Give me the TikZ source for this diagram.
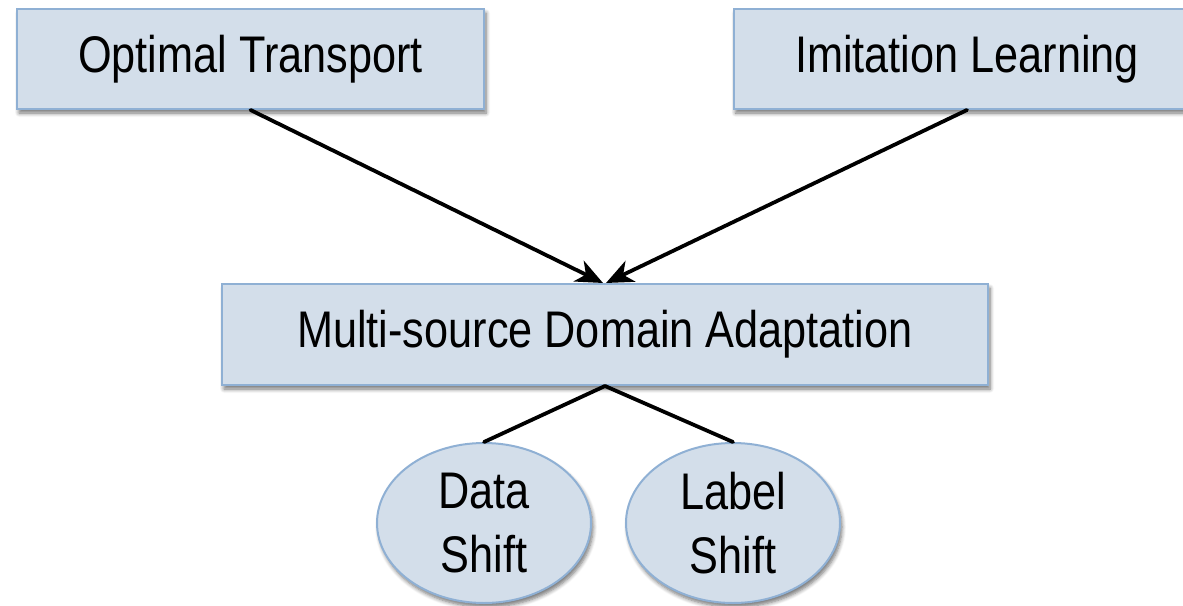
\documentclass[tikz,border=0pt]{standalone}
\usepackage{fontspec}
\setmainfont{Liberation Sans}[FakeStretch=0.84]
\usetikzlibrary{arrows.meta,shadows.blur,shapes.geometric,calc}
\definecolor{boxfill}{HTML}{D3DEEA}
\definecolor{boxline}{HTML}{8FB0D4}
\begin{document}
\begin{tikzpicture}[x=1pt,y=-1pt,
  softshadow/.style={blur shadow={shadow xshift=2pt,shadow yshift=-4pt,
      shadow blur steps=6,shadow blur radius=4pt,shadow opacity=55}},
  topic/.style={draw=boxline,line width=2pt,fill=boxfill,softshadow,
      inner sep=0pt,font=\fontsize{51.5}{64}\selectfont},
  kind/.style={topic,ellipse,minimum width=214pt,minimum height=160pt,
      align=center},
  link/.style={line width=3.8pt,line cap=round},
  feed/.style={link,-{Stealth[length=27pt,width=23pt,inset=8pt]}}]
  \useasboundingbox (0,0) rectangle (1183,605);
  % research areas
  \node[topic,minimum width=467pt,minimum height=100pt] (ot) at (250.5,59) {Optimal Transport};
  \node[topic,minimum width=467pt,minimum height=100pt] (il) at (967,59) {Imitation Learning};
  % central problem
  \node[topic,minimum width=766pt,minimum height=101pt] (msda) at (605,334.5) {Multi-source Domain Adaptation};
  % the two kinds of shift
  \node[kind] (data) at (484,523) {Data\\Shift};
  \node[kind] (label) at (733,523) {Label\\Shift};
  % connectors
  \coordinate (inL) at ($(msda.north)+(-2,0)$);
  \coordinate (inR) at ($(msda.north)+(1,0)$);
  \draw[feed] (ot.south) -- (inL);
  \draw[feed] (il.south) -- (inR);
  \draw[link] (msda.south) -- (data.north);
  \draw[link] (msda.south) -- (label.north);
\end{tikzpicture}
\end{document}
